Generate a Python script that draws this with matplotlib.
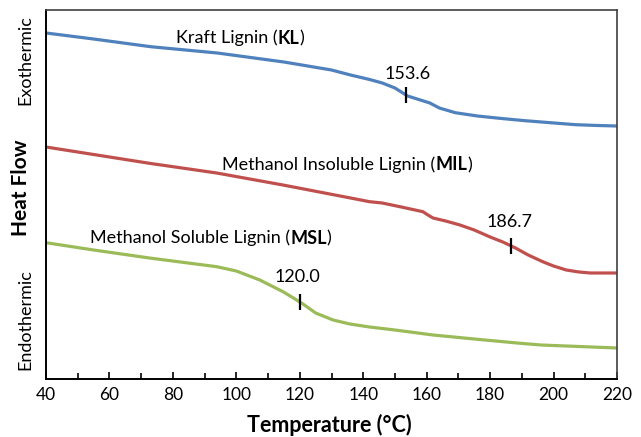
import numpy as np
import matplotlib
matplotlib.use("Agg")
import matplotlib.pyplot as plt

plt.rcParams['font.family'] = ['Lato', 'DejaVu Sans']

# Temperature (°C) and heat flow (arbitrary units)
kl_T = [40, 55, 73, 94, 115, 130, 136, 142, 146, 150, 154, 158, 161, 164, 169, 176, 183, 191, 199, 207, 214, 220]
kl_H = [346, 340, 332.3, 326, 317, 309, 304, 299.5, 296, 291, 283, 279, 276, 271, 266.3, 263, 260.7, 258.3, 256.3, 254.3, 253.5, 253]

mil_T = [40, 72.6, 93.8, 114.7, 136, 142, 146, 152, 158.8, 160.4, 162, 166, 170.5, 175, 180, 184, 188, 192, 196.8, 200, 204, 208, 211.6, 220]
mil_H = [232, 215.7, 206, 194, 181, 177.3, 176, 172, 167.3, 164, 161, 158, 154, 149, 142, 137, 131, 124, 117, 113, 109, 107, 106, 106]

msl_T = [40, 55, 72.6, 93.8, 100, 107.4, 114.7, 118, 121, 125, 130.5, 135.8, 142, 150, 162, 175, 188.5, 196, 204, 212, 220]
msl_H = [136.3, 129, 121, 112.3, 108, 99, 87.3, 81, 75, 66, 59, 55, 52, 49, 44, 40, 36, 34, 33, 32, 31]

series_names = ["Kraft Lignin", "Methanol Insoluble Lignin", "Methanol Soluble Lignin"]
series_abbr = ["KL", "MIL", "MSL"]
tg_values = [153.6, 186.7, 120.0]
x_ticks = [40, 60, 80, 100, 120, 140, 160, 180, 200, 220]

colors = ["#4F81BD", "#C0504D", "#9BBB59"]

fig = plt.figure(figsize=(6.41, 4.37), dpi=100)
ax = fig.add_axes([46/641, 1-379/437, (617-46)/641, (379-10)/437])

data = [(kl_T, kl_H), (mil_T, mil_H), (msl_T, msl_H)]
for (T, H), c in zip(data, colors):
    ax.plot(T, H, color=c, lw=2.3, solid_capstyle='butt', solid_joinstyle='round')

# Tg markers
for (T, H), tg in zip(data, tg_values):
    yv = np.interp(tg, T, H)
    ax.plot([tg], [yv], marker='|', color='black', markersize=12, mew=1.6)

ax.set_xlim(40, 220)
ax.set_ylim(0, 369)
ax.set_xticks(x_ticks)
ax.set_xticks(np.arange(50, 220, 20), minor=True)
ax.set_yticks([])
ax.tick_params(axis='x', which='major', direction='in', length=5, width=1.2, labelsize=12.5, pad=6)
ax.tick_params(axis='x', which='minor', direction='in', length=4, width=1.2)
for s in ['left', 'bottom']:
    ax.spines[s].set_color('black')
    ax.spines[s].set_linewidth(1.4)
for s in ['top', 'right']:
    ax.spines[s].set_color('#404040')
    ax.spines[s].set_linewidth(1.2)

FS = 13
renderer = fig.canvas.get_renderer()

def label(px, py, normal, bold):
    t1 = fig.text(px/641, 1-py/437, normal + " (", ha='left', va='center', fontsize=FS)
    bb = t1.get_window_extent(renderer)
    t2 = fig.text(bb.x1/641, 1-py/437, bold, ha='left', va='center', fontsize=FS, fontweight='bold')
    bb2 = t2.get_window_extent(renderer)
    fig.text(bb2.x1/641, 1-py/437, ")", ha='left', va='center', fontsize=FS)

label(176, 38, series_names[0], series_abbr[0])
label(222, 165, series_names[1], series_abbr[1])
label(90, 238, series_names[2], series_abbr[2])

fig.text(408/641, 1-74/437, f"{tg_values[0]:.1f}", ha='center', va='center', fontsize=FS)
fig.text(510/641, 1-222/437, f"{tg_values[1]:.1f}", ha='center', va='center', fontsize=FS)
fig.text(297/641, 1-277/437, f"{tg_values[2]:.1f}", ha='center', va='center', fontsize=FS)

fig.text(329/641, 1-425/437, "Temperature (°C)", ha='center', va='center', fontsize=15.5, fontweight='bold')
fig.text(21/641, 1-188/437, "Heat Flow", ha='center', va='center', fontsize=15, fontweight='bold', rotation=90)
fig.text(25/641, 1-60/437, "Exothermic", ha='center', va='center', fontsize=13, rotation=90)
fig.text(25/641, 1-320/437, "Endothermic", ha='center', va='center', fontsize=13, rotation=90)

fig.savefig("out.png", dpi=100)
